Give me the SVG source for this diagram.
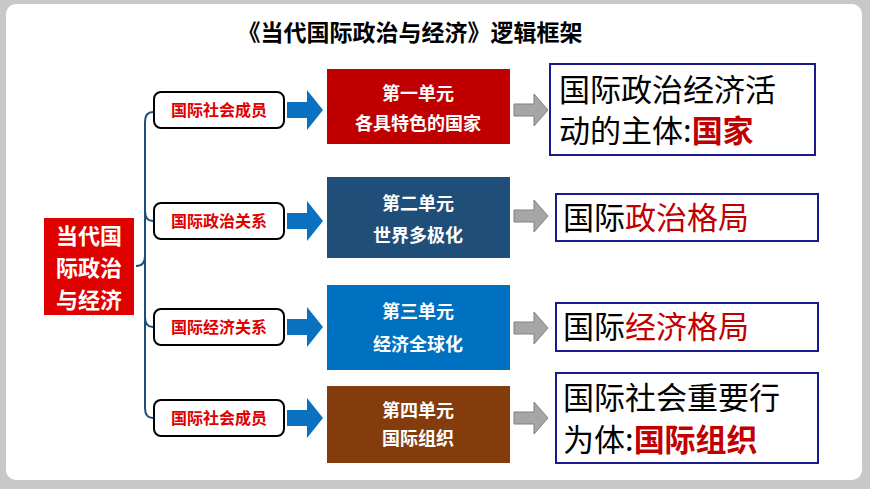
<svg xmlns="http://www.w3.org/2000/svg" width="870" height="489" viewBox="0 0 870 489">
<defs>
<style>
text{font-family:"Noto Sans CJK SC","Noto Sans",sans-serif}
.lb{fill:#fff;stroke:#000;stroke-width:2}
.lt{fill:#E00000;font-size:16px;font-weight:bold;text-anchor:middle}
.ut{fill:#fff;font-size:18px;font-weight:bold;text-anchor:middle}
.rb{fill:#fff;stroke:#1A1A8C;stroke-width:2}
.rt{font-size:31px;fill:#000}
.red{fill:#C00000}
.ba{fill:#0A70C0}
.ga{fill:#A6A6A6;stroke:#808080;stroke-width:1}
.root{font-size:22px;font-weight:bold;fill:#fff;text-anchor:middle}
</style>
</defs>
<rect width="870" height="489" fill="#C8C8C8"/>
<rect x="6" y="4" width="856" height="476" rx="10" fill="#fff"/>
<text x="410" y="41" font-size="23" font-weight="bold" text-anchor="middle" fill="#000">《当代国际政治与经济》逻辑框架</text>
<g id="connectors" fill="none" stroke="#1F4E79" stroke-width="2">
<path d="M153 112 Q145 112 145 122 L145 408 Q145 418 153 418"/>
<path d="M145 211 Q145 221 153 221"/>
<path d="M145 317 Q145 327 153 327"/>
<path d="M136 266 Q145 266 145 256"/>
</g>
<g id="root"><rect x="44" y="218" width="90" height="97" fill="#E00000"/>
<text class="root" x="89" y="244">当代国</text>
<text class="root" x="89" y="276">际政治</text>
<text class="root" x="89" y="308">与经济</text></g>
<g id="l1"><rect class="lb" x="154" y="92" width="130" height="36" rx="7"/><text class="lt" x="219" y="116">国际社会成员</text></g>
<g id="l2"><rect class="lb" x="154" y="203" width="130" height="36" rx="7"/><text class="lt" x="219" y="227">国际政治关系</text></g>
<g id="l3"><rect class="lb" x="154" y="309" width="130" height="36" rx="7"/><text class="lt" x="219" y="333">国际经济关系</text></g>
<g id="l4"><rect class="lb" x="154" y="400" width="130" height="36" rx="7"/><text class="lt" x="219" y="424">国际社会成员</text></g>
<g id="arrows">
<path class="ba" d="M287 102h20v-12l16 20-16 20v-12h-20z"/>
<path class="ba" d="M287 213h20v-12l16 20-16 20v-12h-20z"/>
<path class="ba" d="M287 319h20v-12l16 20-16 20v-12h-20z"/>
<path class="ba" d="M287 410h20v-12l16 20-16 20v-12h-20z"/>
<path class="ga" d="M514 104h20v-10l14 16-14 16v-10h-20z"/>
<path class="ga" d="M514 210h20v-10l14 16-14 16v-10h-20z"/>
<path class="ga" d="M514 322h20v-10l14 16-14 16v-10h-20z"/>
<path class="ga" d="M514 412h20v-10l14 16-14 16v-10h-20z"/>
</g>
<g id="u1"><rect x="327" y="69" width="183" height="75" fill="#C00000"/><text class="ut" x="418" y="100">第一单元</text><text class="ut" x="418" y="130">各具特色的国家</text></g>
<g id="u2"><rect x="327" y="177" width="183" height="81" fill="#1F4E79"/><text class="ut" x="418" y="210">第二单元</text><text class="ut" x="418" y="242">世界多极化</text></g>
<g id="u3"><rect x="327" y="285" width="183" height="85" fill="#0070C0"/><text class="ut" x="418" y="318">第三单元</text><text class="ut" x="418" y="351">经济全球化</text></g>
<g id="u4"><rect x="327" y="386" width="183" height="77" fill="#843C0C"/><text class="ut" x="418" y="417">第四单元</text><text class="ut" x="418" y="445">国际组织</text></g>
<g id="r1"><rect class="rb" x="550" y="64" width="265" height="91"/><text class="rt" x="559" y="101">国际政治经济活</text><text class="rt" x="559" y="142">动的主体:<tspan class="red" font-weight="bold">国家</tspan></text></g>
<g id="r2"><rect class="rb" x="556" y="194" width="262" height="47"/><text class="rt" x="563" y="229">国际<tspan class="red">政治格局</tspan></text></g>
<g id="r3"><rect class="rb" x="556" y="303" width="262" height="48"/><text class="rt" x="563" y="338">国际<tspan class="red">经济格局</tspan></text></g>
<g id="r4"><rect class="rb" x="556" y="373" width="262" height="90"/><text class="rt" x="563" y="409">国际社会重要行</text><text class="rt" x="563" y="451">为体:<tspan class="red" font-weight="bold">国际组织</tspan></text></g>
</svg>
